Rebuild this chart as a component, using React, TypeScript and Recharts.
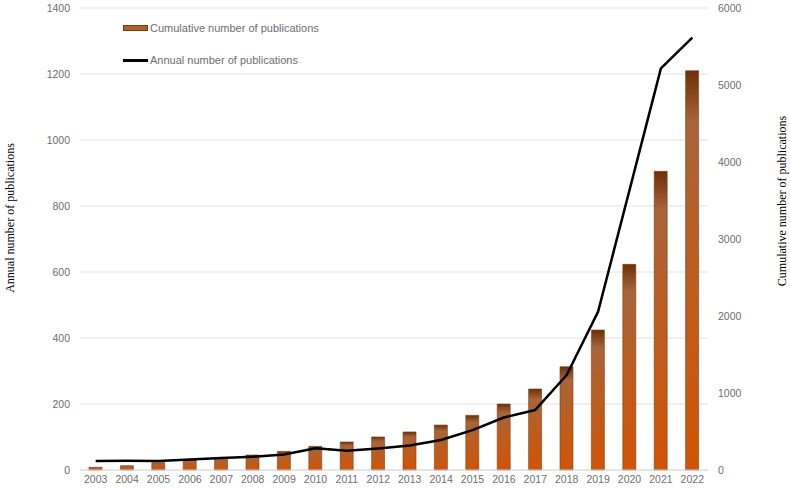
import React from "react";
import {
  ComposedChart,
  Bar,
  Line,
  XAxis,
  YAxis,
  CartesianGrid,
} from "recharts";

const years = [
  "2003", "2004", "2005", "2006", "2007", "2008", "2009", "2010", "2011", "2012",
  "2013", "2014", "2015", "2016", "2017", "2018", "2019", "2020", "2021", "2022",
];
const cumulative = [
  35, 56, 95, 130, 160, 195, 242, 307, 364, 429,
  494, 584, 710, 857, 1052, 1342, 1818, 2671, 3879, 5186,
];
const annual = [
  27, 28, 27, 32, 36, 40, 47, 66, 58, 65,
  74, 91, 121, 159, 182, 288, 480, 848, 1217, 1310,
];
const leftTicks = [0, 200, 400, 600, 800, 1000, 1200, 1400];
const rightTicks = [0, 1000, 2000, 3000, 4000, 5000, 6000];

const data = years.map((year, i) => ({
  year,
  cumulative: cumulative[i],
  annual: annual[i],
}));

const tickStyle = { fontSize: 10.5, fill: "#6e6e6e", fontFamily: "Liberation Sans" };
const titleStyle: React.CSSProperties = {
  position: "absolute",
  fontFamily: "Liberation Serif",
  fontSize: 12,
  color: "#000",
  whiteSpace: "nowrap",
  transform: "translate(-50%, -50%) rotate(-90deg)",
};

const ChartLegend = () => (
  <div
    style={{
      position: "absolute",
      left: 123,
      top: 20,
      fontFamily: "Liberation Sans",
      fontSize: 11,
      color: "#6e6e6e",
    }}
  >
    <div style={{ display: "flex", alignItems: "center", height: 16 }}>
      <span
        style={{
          width: 23,
          height: 4,
          background: "#b0602a",
          border: "1px solid #7a3a10",
          marginRight: 2,
        }}
      />
      Cumulative number of publications
    </div>
    <div style={{ display: "flex", alignItems: "center", height: 16, marginTop: 16 }}>
      <span style={{ width: 25, height: 3, background: "#000", marginRight: 2 }} />
      Annual number of publications
    </div>
  </div>
);

export default function App() {
  return (
    <div style={{ position: "absolute", left: 0, top: 0, width: 790, height: 489, background: "#fff" }}>
      <ComposedChart
        width={790}
        height={489}
        data={data}
        margin={{ top: 8, right: 0, bottom: 0, left: 0 }}
        barSize={13}
      >
        <defs>
          <linearGradient id="barFill" x1="0" y1="0" x2="0" y2="1">
            <stop offset="0" stopColor="#6e3006" />
            <stop offset="0.13" stopColor="#a8643a" />
            <stop offset="0.45" stopColor="#b95e22" />
            <stop offset="1" stopColor="#d25404" />
          </linearGradient>
        </defs>
        <CartesianGrid vertical={false} stroke="#e3e3e3" yAxisId="left" />
        <XAxis
          dataKey="year"
          height={19}
          tickLine={false}
          tickSize={0}
          tickMargin={6}
          axisLine={{ stroke: "#d9d9d9" }}
          tick={tickStyle}
          interval={0}
        />
        <YAxis
          yAxisId="left"
          orientation="left"
          width={80}
          domain={[0, 1400]}
          ticks={leftTicks}
          axisLine={false}
          tickLine={false}
          tickSize={0}
          tickMargin={10}
          tick={tickStyle}
        />
        <YAxis
          yAxisId="right"
          orientation="right"
          width={82}
          domain={[0, 6000]}
          ticks={rightTicks}
          axisLine={false}
          tickLine={false}
          tickSize={0}
          tickMargin={10}
          tick={tickStyle}
        />
        <Bar
          yAxisId="right"
          dataKey="cumulative"
          name="Cumulative number of publications"
          fill="url(#barFill)"
          stroke="#7a4020"
          strokeWidth={0.6}
          isAnimationActive={false}
        />
        <Line
          yAxisId="left"
          dataKey="annual"
          name="Annual number of publications"
          type="linear"
          stroke="#000"
          strokeWidth={2.5}
          strokeLinejoin="round"
          dot={false}
          activeDot={false}
          isAnimationActive={false}
        />
      </ComposedChart>
      <ChartLegend />
      <div style={{ ...titleStyle, left: 10, top: 218 }}>Annual number of publications</div>
      <div style={{ ...titleStyle, left: 782, top: 201 }}>Cumulative number of publications</div>
    </div>
  );
}
